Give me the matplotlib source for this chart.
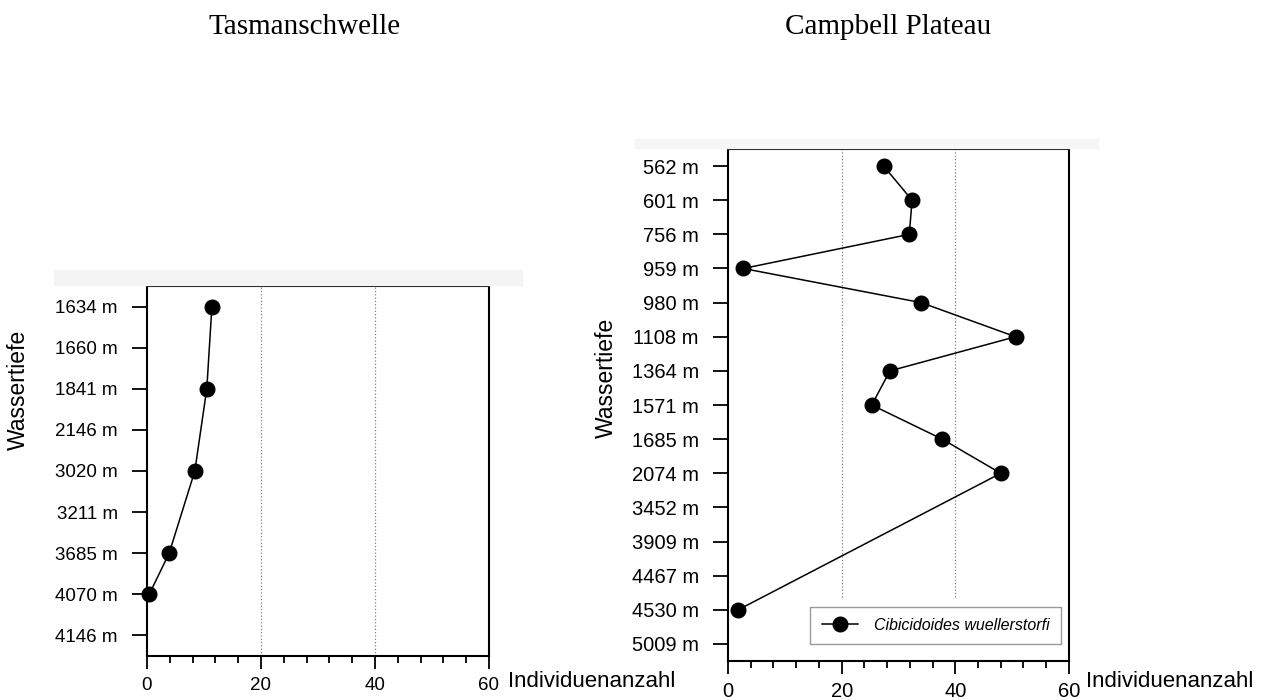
import numpy as np
import matplotlib.pyplot as plt
from matplotlib.patches import Rectangle
from matplotlib.ticker import MultipleLocator

# Tasmanschwelle
tasman_depths = ["1634 m", "1660 m", "1841 m", "2146 m", "3020 m", "3211 m", "3685 m", "4070 m", "4146 m"]
tasman_counts = [11.4, None, 10.5, None, 8.4, None, 3.9, 0.4, None]

# Campbell Plateau
campbell_depths = ["562 m", "601 m", "756 m", "959 m", "980 m", "1108 m", "1364 m", "1571 m",
                   "1685 m", "2074 m", "3452 m", "3909 m", "4467 m", "4530 m", "5009 m"]
campbell_counts = [27.4, 32.4, 31.9, 2.7, 34.0, 50.6, 28.5, 25.3, 37.7, 48.0, None, None, None, 1.8, None]

xticks = [0, 20, 40, 60]
species = "Cibicidoides wuellerstorfi"

plt.rcParams['font.family'] = ['Liberation Sans', 'DejaVu Sans']


def panel(ax, depths, counts, fs, xpad, grid_ymin=0.0):
    n = len(depths)
    idx = [i for i, c in enumerate(counts) if c is not None]
    vals = [counts[i] for i in idx]

    ax.plot(vals, idx, color='black', lw=1.1, marker='o', ms=10.5,
            label=species, zorder=3, clip_on=False)

    ax.set_ylim(n - 0.5, -0.5)
    ax.set_yticks(range(n))
    ax.set_yticklabels(depths, fontsize=fs)
    ax.set_xlim(0, 60)
    ax.set_xticks(xticks)
    ax.set_xticklabels([str(t) for t in xticks], fontsize=fs)
    ax.xaxis.set_minor_locator(MultipleLocator(4))

    ax.tick_params(axis='y', length=11, width=1.3, pad=10)
    ax.tick_params(axis='x', which='major', length=9, width=1.3, pad=xpad)
    ax.tick_params(axis='x', which='minor', length=5, width=1.3)
    for s in ax.spines.values():
        s.set_linewidth(1.5)

    # punktierte Linien bei 20 und 40
    for g in [20, 40]:
        ax.axvline(g, ymin=grid_ymin, ymax=1, color='gray', ls=':', lw=0.9, zorder=1)


fig = plt.figure(figsize=(12.7, 7), dpi=100)

# hellgraue Streifen ueber den Diagrammen
fig.patches.append(Rectangle((54 / 1270, 1 - 285 / 700), (522 - 54) / 1270, 15 / 700,
                             transform=fig.transFigure, color='#f4f4f4', zorder=0))
fig.patches.append(Rectangle((635 / 1270, 1 - 148 / 700), (1098 - 635) / 1270, 9 / 700,
                             transform=fig.transFigure, color='#f6f6f6', zorder=0))

ax1 = fig.add_axes([0.1157, 0.0629, 0.2693, 0.5286])
panel(ax1, tasman_depths, tasman_counts, 13.5, xpad=6)
ax1.set_ylabel("Wassertiefe", fontsize=16.5)
ax1.yaxis.set_label_coords(-0.342, 0.719)
ax1.text(1.055, -0.068, "Individuenanzahl", transform=ax1.transAxes, fontsize=16,
         ha='left', va='center')

ax2 = fig.add_axes([0.5732, 0.0557, 0.2685, 0.7314])
panel(ax2, campbell_depths, campbell_counts, 14.5, xpad=6)
ax2.set_ylabel("Wassertiefe", fontsize=16.5)
ax2.yaxis.set_label_coords(-0.323, 0.553)
ax2.text(1.05, -0.04, "Individuenanzahl", transform=ax2.transAxes, fontsize=16,
         ha='left', va='center')
leg = ax2.legend(loc='lower right', bbox_to_anchor=(0.977, 0.033), borderaxespad=0,
                 fancybox=False, framealpha=1, edgecolor='#999999', borderpad=0.7,
                 handletextpad=1.0, prop={'style': 'italic', 'size': 11.5},
                 handlelength=2.3)
leg.get_frame().set_linewidth(1.0)

# Gitterlinien enden ueber der Legende
for ln in ax2.lines[1:]:
    ln.set_ydata([0.125, 1])

fig.text(305 / 1270, 1 - 27 / 700, "Tasmanschwelle", fontsize=21,
         family='Liberation Serif', ha='center', va='center')
fig.text(888 / 1270, 1 - 27 / 700, "Campbell Plateau", fontsize=21,
         family='Liberation Serif', ha='center', va='center')

plt.savefig("out.png", dpi=100)
